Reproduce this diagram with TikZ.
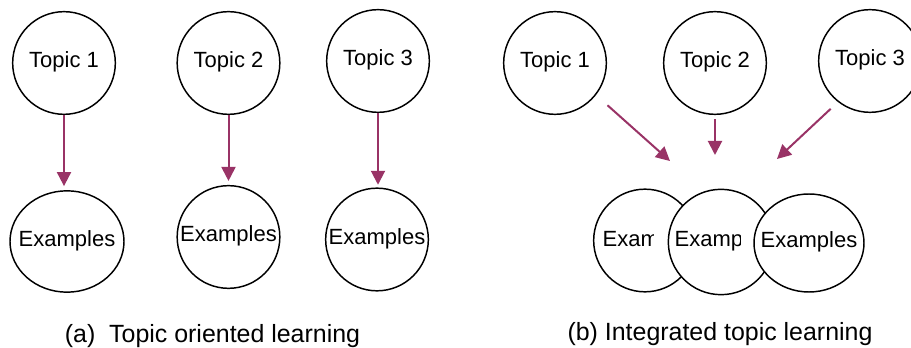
\documentclass[tikz,border=0pt]{standalone}
\usepackage{fontspec}
\setmainfont{Liberation Sans}
\usetikzlibrary{arrows.meta,shapes.geometric}
\definecolor{plum}{RGB}{153,51,102}

\begin{document}
\begin{tikzpicture}[
  x=0.75pt, y=-0.75pt,
  topic/.style={circle,draw,line width=1.1pt,minimum size=77pt,inner sep=0pt,text depth=0.45em,font=\fontsize{16.5}{19}\selectfont},
  oval/.style={ellipse,draw,line width=1.1pt,inner sep=0pt},
  word/.style={inner sep=0pt,text depth=0.45em,font=\fontsize{16.5}{19}\selectfont},
  link/.style={draw=plum,line width=1.5pt,-{Triangle[width=10.5pt,length=10.5pt]}},
  caption/.style={anchor=base,font=\fontsize{18.7}{22}\selectfont}
]
  \useasboundingbox (0,0) rectangle (911,348);

  \node[topic] (t1) at (64,63) {Topic 1};
  \node[topic] (t2) at (228.5,63) {Topic 2};
  \node[topic] (t3) at (378,61) {Topic 3};
  \node[oval,minimum width=85.5pt,minimum height=76pt,label={[word]center:Examples}] (e1) at (67,241.5) {};
  \node[topic] (e2) at (228.5,237) {Examples};
  \node[topic] (e3) at (377,239.5) {Examples};
  \draw[link,shorten >=3pt] (t1.south) -- (t1.south |- e1.north);
  \draw[link,shorten >=3pt] (t2.south) -- (t2.south |- e2.north);
  \draw[link,shorten >=2pt] (t3.south) -- (t3.south |- e3.north);

  \node[topic] (u1) at (555,63) {Topic 1};
  \node[topic] (u2) at (715,63) {Topic 2};
  \node[topic] (u3) at (870,61) {Topic 3};
  \coordinate (g1) at (670,161);
  \coordinate (g2) at (715,155);
  \coordinate (g3) at (777,159);
  \draw[link,shorten <=11.5pt] (u1.-38) -- (g1);
  \draw[link,shorten <=3pt] (u2.south) -- (g2);
  \draw[link,shorten <=7.5pt] (u3.-128) -- (g3);

  \node[topic,fill=white] (f1) at (645,240.5) {};
  \begin{scope}
    \clip (590,200) rectangle (653,285);
    \node[word] (f1txt) at (651,242) {Examples};
  \end{scope}
  \node[topic,fill=white,minimum size=79pt] (f2) at (721,242) {};
  \begin{scope}
    \clip (660,200) rectangle (740,285);
    \node[word] (f2txt) at (723,242) {Examples};
  \end{scope}
  \node[oval,fill=white,minimum width=82.5pt,minimum height=73.5pt,label={[word]center:Examples}] (f3) at (809,243) {};

  \node[caption] (capa) at (212.5,343) {(a)\ \ Topic oriented learning};
  \node[caption] (capb) at (720,341) {(b) Integrated topic learning};
\end{tikzpicture}
\end{document}
